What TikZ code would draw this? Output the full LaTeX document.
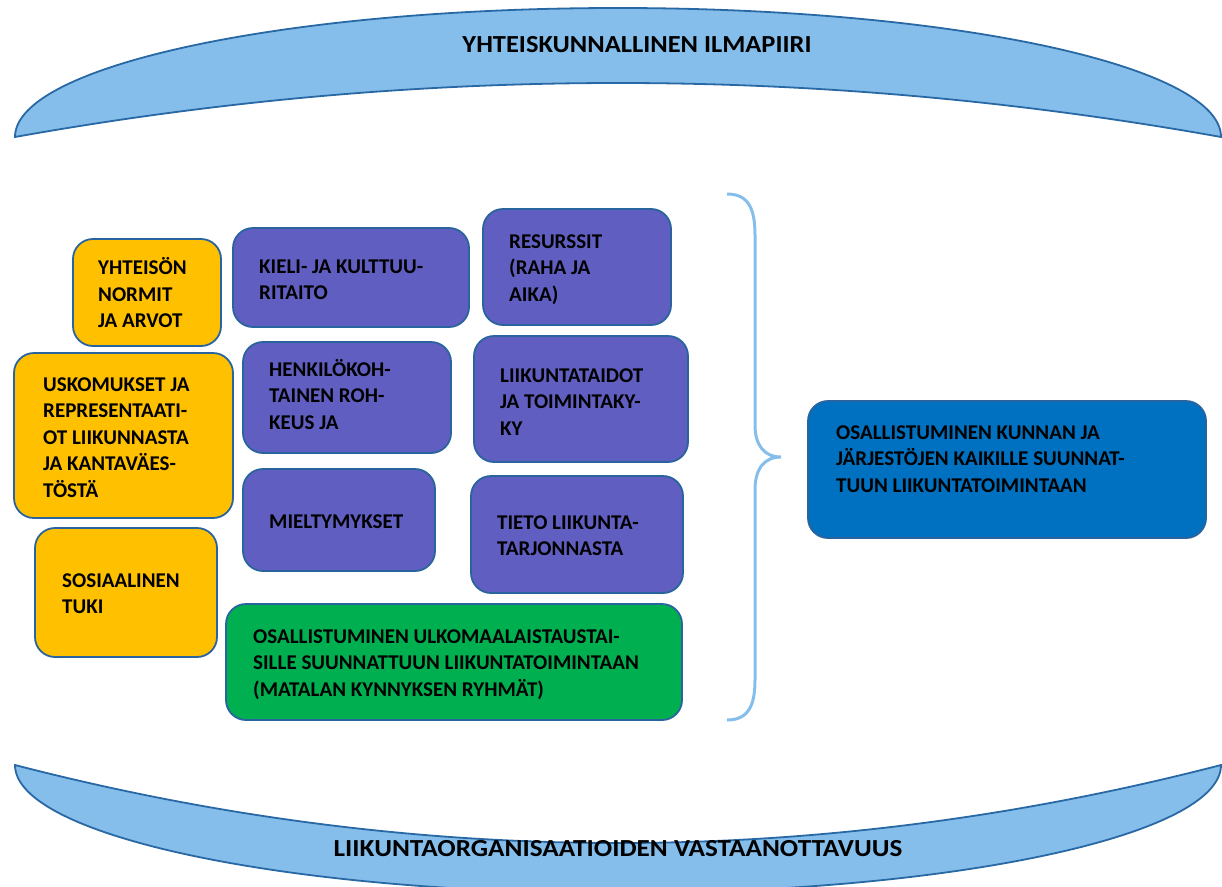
\documentclass[tikz,border=0pt]{standalone}
\usepackage{fontspec}
\setmainfont{Carlito}
\definecolor{arcfill}{RGB}{133,190,235}
\definecolor{arcline}{RGB}{40,104,164}
\definecolor{boxline}{RGB}{42,100,158}
\definecolor{ybox}{RGB}{255,192,0}
\definecolor{pbox}{RGB}{96,94,192}
\definecolor{gbox}{RGB}{0,176,80}
\definecolor{bbox}{RGB}{0,112,192}
\newcommand\firstline{\rule{0pt}{20pt}}
\tikzset{
  arcshape/.style={fill=arcfill, draw=arcline, line width=1.8pt},
  card/.style={rectangle, rounded corners=20pt, draw=boxline, line width=1.8pt, inner sep=0pt},
  yellowcard/.style={card, fill=ybox},
  purplecard/.style={card, fill=pbox},
  greencard/.style={card, fill=gbox},
  bluecard/.style={card, fill=bbox},
  cardtext/.style={font=\fontsize{21}{26.5}\selectfont\bfseries, align=left, inner sep=0pt, anchor=north west},
  titletext/.style={font=\fontsize{24.5}{30}\selectfont\bfseries, inner sep=0pt, anchor=base},
  bracket/.style={draw=arcfill, line width=3pt}
}
\begin{document}
\begin{tikzpicture}[x=1pt, y=-1pt]
\useasboundingbox (0,0) rectangle (1222,886);
\clip (0,0) rectangle (1222,886);

% upper arc: societal climate
\draw[arcshape] (15,137) arc[start angle=180, end angle=360, x radius=603, y radius=129]
  .. controls (819,65) and (417,65) .. cycle;
\node[titletext] (climate) at (637,52) {\scalebox{1.08}[1]{YHTEISKUNNALLINEN ILMAPIIRI}};

% lower arc: receptiveness of sport organisations
\draw[arcshape] (15,765) arc[start angle=180, end angle=0, x radius=603, y radius=128]
  .. controls (819,869) and (417,869) .. cycle;
\node[titletext] (recept) at (618,856) {\scalebox{1.11}[1]{LIIKUNTAORGANISAATIOIDEN VASTAANOTTAVUUS}};

% yellow: social factors
\node[yellowcard, minimum width=148pt, minimum height=107pt] (norms) at (147,292.5) {};
\node[cardtext] (normsT) at (98,254.5) {\firstline YHTEISÖN\\NORMIT\\JA ARVOT};
\node[yellowcard, minimum width=219pt, minimum height=165pt] (beliefs) at (123.5,435.5) {};
\node[cardtext] (beliefsT) at (43,371) {\firstline USKOMUKSET JA\\REPRESENTAATI-\\OT LIIKUNNASTA\\JA KANTAVÄES-\\TÖSTÄ};
\node[yellowcard, minimum width=182pt, minimum height=129pt] (support) at (126,592.5) {};
\node[cardtext] (supportT) at (62,567) {\firstline SOSIAALINEN\\TUKI};

% purple: individual factors
\node[purplecard, minimum width=236pt, minimum height=99pt] (lang) at (351,277.5) {};
\node[cardtext] (langT) at (259,253) {\firstline KIELI- JA KULTTUU-\\RITAITO};
\node[purplecard, minimum width=208pt, minimum height=111pt] (courage) at (347,397.5) {};
\node[cardtext] (courageT) at (269,356) {\firstline HENKILÖKOH-\\TAINEN ROH-\\KEUS JA};
\node[purplecard, minimum width=192pt, minimum height=102pt] (prefs) at (339,520) {};
\node[cardtext] (prefsT) at (269,508) {\firstline MIELTYMYKSET};
\node[purplecard, minimum width=188pt, minimum height=116pt] (res) at (577,267) {};
\node[cardtext] (resT) at (509,228) {\firstline RESURSSIT\\(RAHA JA\\AIKA)};
\node[purplecard, minimum width=214pt, minimum height=126pt] (skills) at (581,399) {};
\node[cardtext] (skillsT) at (500,362) {\firstline LIIKUNTATAIDOT\\JA TOIMINTAKY-\\KY};
\node[purplecard, minimum width=212pt, minimum height=117pt] (info) at (577,534.5) {};
\node[cardtext] (infoT) at (497,509) {\firstline TIETO LIIKUNTA-\\TARJONNASTA};

% green: targeted activity
\node[greencard, minimum width=456pt, minimum height=116pt] (targeted) at (454,662) {};
\node[cardtext] (targetedT) at (253,623) {\firstline OSALLISTUMINEN ULKOMAALAISTAUSTAI-\\SILLE SUUNNATTUUN LIIKUNTATOIMINTAAN\\(MATALAN KYNNYKSEN RYHMÄT)};

% brace gathering the factors
\coordinate (braceTop) at (727,194);
\coordinate (braceTip) at (781,457);
\coordinate (braceBot) at (727,720);
\draw[bracket] (braceTop) .. controls (748,194) and (755,208) .. (755,235)
  -- (755,425) .. controls (755,445) and (764,457) .. (braceTip)
  .. controls (764,457) and (755,469) .. (755,490)
  -- (755,680) .. controls (755,706) and (748,720) .. (braceBot);

% blue: general activity
\node[bluecard, minimum width=398pt, minimum height=137pt] (general) at (1007,469.5) {};
\node[cardtext] (generalT) at (836,419) {\firstline OSALLISTUMINEN KUNNAN JA\\JÄRJESTÖJEN KAIKILLE SUUNNAT-\\TUUN LIIKUNTATOIMINTAAN};
\end{tikzpicture}
\end{document}
